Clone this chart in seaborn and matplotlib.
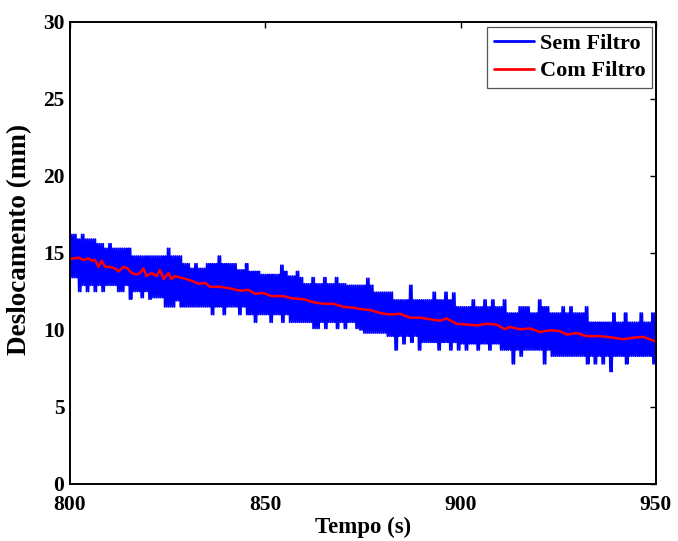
import matplotlib
matplotlib.use("Agg")
import matplotlib.pyplot as plt
import seaborn as sns
import pandas as pd

# ---- data ----
start_time = 800  # first second of the record (s)
# per second: upper and lower peaks of the unfiltered signal (mm)
blue_upper = [
    16.2, 16.2, 15.9, 16.2, 15.9, 15.9, 15.9, 15.6, 15.6, 15.3,
    15.6, 15.3, 15.3, 15.3, 15.3, 15.3, 14.8, 14.8, 14.8, 14.8,
    14.8, 14.8, 14.8, 14.8, 14.8, 15.3, 14.8, 14.8, 14.8, 14.3,
    14.3, 14.0, 14.3, 14.0, 14.0, 14.3, 14.3, 14.3, 14.8, 14.3,
    14.3, 14.3, 14.3, 13.9, 13.9, 14.3, 13.8, 13.8, 13.8, 13.6,
    13.6, 13.6, 13.6, 13.6, 14.2, 13.8, 13.5, 13.5, 13.8, 13.4,
    13.0, 13.0, 13.4, 13.0, 13.0, 13.4, 13.0, 13.0, 13.4, 13.0,
    13.0, 12.9, 12.9, 12.9, 12.9, 12.9, 13.35, 12.9, 12.45, 12.45,
    12.45, 12.45, 12.45, 11.95, 11.95, 11.95, 11.95, 12.9, 11.95, 11.95,
    11.95, 11.95, 11.95, 12.45, 11.95, 11.95, 12.45, 11.95, 12.4, 11.5,
    11.5, 11.5, 11.5, 11.95, 11.5, 11.5, 11.95, 11.5, 11.95, 11.5,
    11.5, 11.95, 11.1, 11.1, 11.1, 11.5, 11.5, 11.5, 11.1, 11.1,
    11.95, 11.5, 11.5, 11.1, 11.1, 11.1, 11.5, 11.1, 11.5, 11.1,
    11.1, 11.1, 11.5, 10.5, 10.5, 10.5, 10.5, 10.5, 10.5, 11.1,
    10.5, 10.5, 11.1, 10.5, 10.5, 10.5, 11.1, 10.5, 10.5, 11.1,
]
blue_lower = [
    13.4, 13.4, 12.5, 12.9, 12.5, 12.9, 12.5, 12.9, 12.5, 12.9,
    12.9, 12.9, 12.5, 12.5, 12.9, 12.0, 12.5, 12.5, 12.1, 12.5,
    12.0, 12.1, 12.1, 12.1, 11.5, 11.5, 11.5, 11.9, 11.5, 11.5,
    11.5, 11.5, 11.5, 11.5, 11.5, 11.5, 11.0, 11.5, 11.5, 11.0,
    11.5, 11.5, 11.5, 11.0, 11.5, 11.0, 11.0, 10.5, 11.0, 11.0,
    11.0, 10.5, 11.0, 11.0, 10.5, 11.0, 10.5, 10.5, 10.5, 10.5,
    10.5, 10.5, 10.1, 10.1, 10.5, 10.1, 10.5, 10.5, 10.1, 10.5,
    10.1, 10.5, 10.5, 10.1, 10.0, 9.8, 9.8, 9.8, 9.8, 9.8,
    9.8, 9.6, 9.6, 8.7, 9.6, 9.1, 9.6, 9.2, 9.6, 8.7,
    9.2, 9.2, 9.2, 9.2, 8.7, 9.2, 9.2, 8.7, 9.2, 8.7,
    9.1, 8.7, 9.1, 9.1, 8.7, 9.1, 9.1, 8.7, 9.1, 9.1,
    8.7, 8.7, 8.7, 7.8, 8.7, 8.3, 8.7, 8.7, 8.7, 8.7,
    8.7, 7.8, 8.7, 8.3, 8.3, 8.3, 8.3, 8.3, 8.3, 8.3,
    8.3, 8.3, 7.8, 8.3, 7.8, 8.3, 7.8, 8.3, 7.3, 8.3,
    8.3, 8.3, 7.8, 8.3, 8.3, 8.3, 8.3, 8.3, 8.3, 7.8,
]
red_t = [
    800.0, 802.1, 803.4, 804.7, 805.5, 806.4, 807.3, 808.1, 809.0, 810.2,
    811.5, 812.4, 813.7, 814.7, 815.8, 817.1, 817.9, 818.8, 819.6, 820.9,
    822.2, 823.0, 824.0, 825.2, 826.0, 826.9, 828.2, 829.9, 831.6, 832.8,
    834.6, 835.9, 838.4, 841.0, 843.5, 845.7, 847.4, 849.5, 851.6, 854.6,
    856.8, 859.8, 862.3, 864.9, 867.4, 870.0, 872.5, 874.2, 876.8, 879.4,
    881.9, 884.5, 887.0, 889.6, 892.1, 894.7, 896.4, 899.0, 901.5, 904.1,
    906.6, 909.2, 911.3, 912.6, 915.2, 917.7, 920.3, 922.9, 925.4, 927.1,
    929.7, 932.2, 935.7, 939.1, 941.6, 944.2, 946.8, 950.0,
]
red_v = [
    14.6, 14.7, 14.55, 14.65, 14.5, 14.55, 14.1, 14.5, 14.1, 14.1,
    14.0, 13.8, 14.1, 14.0, 13.7, 13.6, 13.7, 14.0, 13.5, 13.7,
    13.5, 13.9, 13.3, 13.7, 13.3, 13.5, 13.4, 13.3, 13.15, 13.0,
    13.05, 12.8, 12.8, 12.7, 12.55, 12.6, 12.35, 12.4, 12.2, 12.2,
    12.05, 12.0, 11.8, 11.7, 11.7, 11.5, 11.45, 11.36, 11.3, 11.1,
    11.0, 11.05, 10.8, 10.8, 10.7, 10.6, 10.75, 10.4, 10.35, 10.3,
    10.4, 10.35, 10.05, 10.2, 10.04, 10.1, 9.87, 9.98, 9.93, 9.7,
    9.8, 9.6, 9.6, 9.5, 9.4, 9.5, 9.55, 9.25,
]
series_labels = ["Sem Filtro", "Com Filtro"]
x_ticks = [800, 850, 900, 950]
y_ticks = [0, 5, 10, 15, 20, 25, 30]
x_label = "Tempo (s)"
y_label = "Deslocamento (mm)"

# ---- build tables: the raw signal swings between its peaks
#      twice in each second (samples every 0.25 s) ----
blue_t, blue_v = [], []
for i, (u, l) in enumerate(zip(blue_upper, blue_lower)):
    for k, val in enumerate((u, l, u, l)):
        blue_t.append(start_time + i + 0.25 * k)
        blue_v.append(val)
df_blue = pd.DataFrame({"t": blue_t, "v": blue_v})
df_red = pd.DataFrame({"t": red_t, "v": red_v})

sns.set_theme(style="white")
plt.rcParams["font.family"] = ["Liberation Serif", "DejaVu Serif"]
plt.rcParams["font.weight"] = "bold"
for key in ("text.color", "axes.labelcolor", "xtick.color", "ytick.color"):
    plt.rcParams[key] = "black"

fig = plt.figure(figsize=(6.78, 5.41), dpi=100)
ax = fig.add_axes([0.1032, 0.1054, 0.8643, 0.854])

sns.lineplot(data=df_blue, x="t", y="v", color="#0000ff", lw=1.3, ax=ax,
             estimator=None, sort=False, label=series_labels[0])
sns.lineplot(data=df_red, x="t", y="v", color="#ff0000", lw=1.8, ax=ax,
             estimator=None, sort=False, label=series_labels[1])

ax.set_xlim(x_ticks[0], x_ticks[-1])
ax.set_ylim(y_ticks[0], y_ticks[-1])
ax.set_xticks(x_ticks)
ax.set_yticks(y_ticks)
ax.tick_params(direction="in", length=4.5, width=1.0, labelsize=15.5,
               top=True, right=True, colors="black", labelcolor="black")
ax.tick_params(axis="x", pad=8)
ax.tick_params(axis="y", pad=4)
for lab in ax.get_xticklabels() + ax.get_yticklabels():
    lab.set_fontweight("bold")
for sp in ax.spines.values():
    sp.set_linewidth(1.4)
    sp.set_color("black")

ax.set_xlabel(x_label, fontsize=16.5, fontweight="bold", labelpad=1,
              color="black")
ax.set_ylabel(y_label, fontsize=19.5, fontweight="bold", color="black")
ax.yaxis.set_label_coords(-0.064, 0.53)

leg = ax.legend(loc="upper right", bbox_to_anchor=(0.993, 0.989),
                fontsize=16, frameon=True, fancybox=False, framealpha=1,
                edgecolor="#555555", borderpad=0.3, labelspacing=0.3,
                handlelength=1.8, handletextpad=0.25, borderaxespad=0)
leg.get_frame().set_linewidth(0.9)
for line in leg.get_lines():
    line.set_linewidth(2.0)
for txt in leg.get_texts():
    txt.set_fontweight("bold")
    txt.set_color("black")

fig.savefig("out.png", dpi=100)
